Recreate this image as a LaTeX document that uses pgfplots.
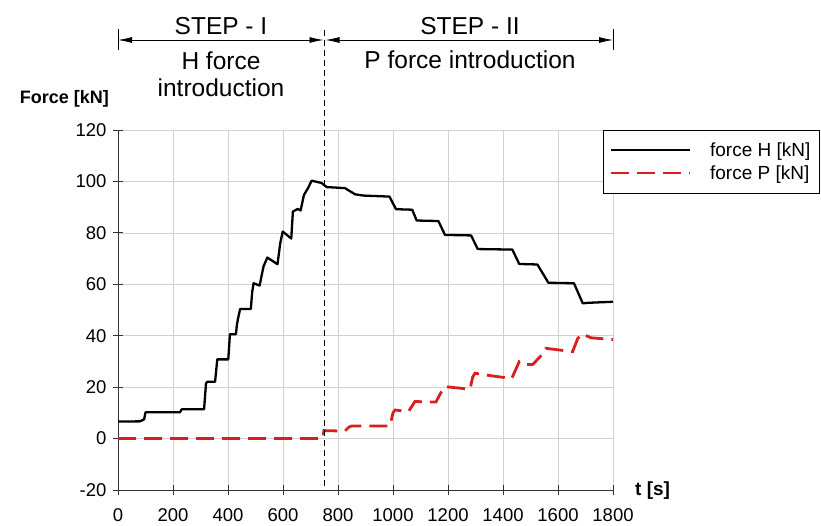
\documentclass[border=0pt]{standalone}
\usepackage{fontspec}
\setmainfont{Liberation Sans}
\usepackage{pgfplots}
\usepackage{pgfplotstable}
\pgfplotsset{compat=1.18}
\usetikzlibrary{arrows.meta}
\definecolor{fred}{RGB}{218,30,30}

\pgfplotstableread{
t F
0 6.6
80 6.7
95 7.5
100 10.2
225 10.2
232 11.4
313 11.4
320 21.5
325 22.1
353 22.1
361 30.8
401 30.8
407 40.6
429 40.6
432 44
436 46.4
444 50.4
483 50.4
488 57
493 60.4
515 59.5
529 66.9
543 70.4
580 67.8
590 76
599 80.5
630 77.8
636 88.3
654 89.3
664 88.7
676 94.7
692 97.6
704 100.3
740 99.4
759 97.8
825 97.4
862 95.0
892 94.5
987 94.1
1011 89.2
1070 89.0
1086 84.8
1165 84.6
1189 79.2
1284 79.0
1308 73.7
1434 73.5
1459 67.9
1525 67.7
1565 60.6
1658 60.4
1690 52.6
1710 52.8
1800 53.2
}\forceH

\pgfplotstableread{
t F
0 0
744 0
749 3.1
825 2.9
840 4.5
850 4.9
989 4.9
1000 10
1007 11.1
1056 10.5
1080 14.4
1156 14.2
1180 19
1189 20.2
1280 19.2
1290 24
1298 25.4
1371 24.2
1432 23.4
1459 29.9
1480 28.8
1508 28.8
1545 33
1556 35.1
1653 33.8
1672 39
1690 40.7
1719 39.2
1800 38.5
}\forceP

\begin{document}
\begin{tikzpicture}[x=1pt,y=1pt]
\useasboundingbox (0,0) rectangle (821,525);
\begin{axis}[
  at={(118pt,35pt)}, anchor=south west,
  scale only axis, width=495pt, height=360pt,
  xmin=0, xmax=1800, ymin=-20, ymax=120,
  xtick={0,200,...,1800}, ytick={-20,0,...,120},
  axis x line=bottom, axis y line=left,
  axis line style={-, line width=0.8pt, black!80},
  grid=major, major grid style={black!18, line width=0.7pt},
  tick align=center, major tick length=10pt,
  tick style={black!80, line width=0.8pt},
  ticklabel style={font=\fontsize{18.5}{20}\selectfont},
  /pgf/number format/assume math mode=true,
  /pgf/number format/1000 sep={},
  xticklabel style={yshift=-10pt},
  yticklabel style={xshift=-3pt},
  clip=false,
  legend style={at={(rel axis cs:0.98,1)}, anchor=north west,
    draw=black, line width=0.8pt, font=\fontsize{19}{21}\selectfont,
    inner xsep=7pt, inner ysep=10pt, row sep=4pt,
    /tikz/column sep=17pt,
    cells={anchor=west}},
  legend image code/.code={\draw[#1, line width=1.6pt] (0pt,0pt) -- (79pt,0pt);},
]
\addplot[black, line width=2.3pt, line join=round] table[x=t,y=F]{\forceH};
\addlegendentry{force H [kN]}
\addplot[fred, line width=2.8pt, dash pattern=on 18pt off 8pt] table[x=t,y=F]{\forceP};
\addlegendentry{force P [kN]}
\end{axis}
% annotations
\draw[black, line width=0.7pt, dash pattern=on 6pt off 4pt] (324.5,495) -- (324.5,35);
\draw[black, line width=0.8pt] (118,496) -- (118,475);
\draw[black, line width=0.8pt] (613,496) -- (613,475);
\draw[black, line width=0.8pt, {Latex[length=14pt,width=6pt]}-{Latex[length=14pt,width=6pt]}] (118,485) -- (323.5,485);
\draw[black, line width=0.8pt, {Latex[length=14pt,width=6pt]}-{Latex[length=14pt,width=6pt]}] (325.5,485) -- (613,485);
\node[anchor=base, inner sep=0pt, font=\fontsize{24.5}{27}\selectfont] at (221,490) {STEP - I};
\node[anchor=base, inner sep=0pt, font=\fontsize{24.5}{27}\selectfont] at (470,490) {STEP - II};
\node[anchor=base, inner sep=0pt, font=\fontsize{24.5}{27}\selectfont] at (221,455) {H force};
\node[anchor=base, inner sep=0pt, font=\fontsize{24.5}{27}\selectfont] at (221,428) {introduction};
\node[anchor=base, inner sep=0pt, font=\fontsize{24.5}{27}\selectfont] at (470,456) {P force introduction};
\node[anchor=base east, inner sep=0pt, font=\fontsize{18}{20}\selectfont\bfseries] at (109,421) {Force [kN]};
\node[anchor=base west, inner sep=0pt, font=\fontsize{19}{21}\selectfont\bfseries] at (635,30) {t [s]};
\end{tikzpicture}
\end{document}
